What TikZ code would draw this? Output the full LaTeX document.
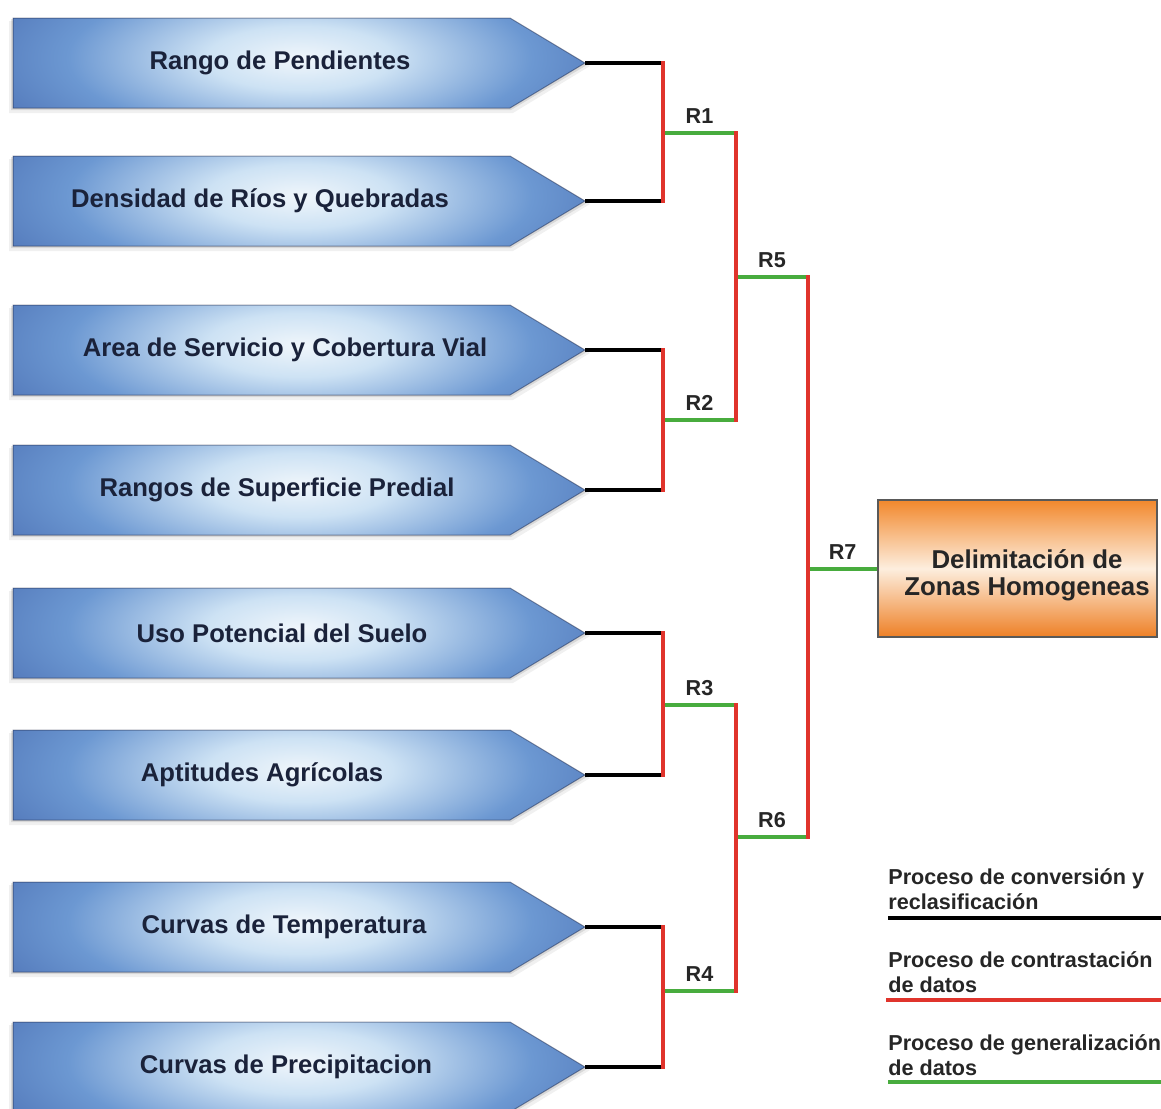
\documentclass[tikz,border=0pt]{standalone}
\usepackage{fontspec}
\setmainfont{Liberation Sans}
\definecolor{bxdark}{RGB}{46,64,128}
\definecolor{bxdeep}{RGB}{68,102,172}
\definecolor{bxmid}{RGB}{108,152,210}
\definecolor{bxpale}{RGB}{205,226,244}
\definecolor{bxlight}{RGB}{240,246,251}
\definecolor{bxtext}{RGB}{26,34,58}
\definecolor{lnred}{RGB}{224,52,44}
\definecolor{lngreen}{RGB}{72,172,62}
\definecolor{ortop}{RGB}{242,136,44}
\definecolor{orlight}{RGB}{253,238,222}
\definecolor{orbot}{RGB}{238,128,38}
\pgfdeclareradialshading{boxglow}{\pgfpoint{0bp}{0bp}}{color(0bp)=(bxlight); color(8bp)=(bxpale); color(20bp)=(bxmid); color(34bp)=(bxdeep); color(46bp)=(bxdark); color(75bp)=(bxdark)}
\tikzset{
  conv/.style={line width=0.08cm, black},
  contr/.style={line width=0.08cm, lnred, line cap=rect},
  gen/.style={line width=0.08cm, lngreen},
  boxtext/.style={font=\bfseries\fontsize{14.6}{17}\selectfont, text=bxtext},
  rlab/.style={above, inner sep=4pt, font=\bfseries\fontsize{12.3}{14}\selectfont, text=black!85},
  legtext/.style={anchor=south west, inner sep=0pt, align=left, font=\bfseries\fontsize{12.3}{14.2}\selectfont, text=black!85},
  resbox/.style={draw=black!65, line width=0.03cm, minimum width=5.58cm, minimum height=2.74cm,
    top color=ortop, bottom color=orbot, middle color=orlight},
  restext/.style={align=center, font=\bfseries\fontsize{14.7}{15.6}\selectfont, text=black!85}
}
\begin{document}
\begin{tikzpicture}[x=0.02cm,y=-0.02cm]
\useasboundingbox (0,0) rectangle (1161,1109);
% input layers
\foreach \i/\yc/\tx/\txt in {1/63/280/Rango de Pendientes, 2/201/260/Densidad de Ríos y Quebradas,
    3/350/285/Area de Servicio y Cobertura Vial, 4/490/277/Rangos de Superficie Predial,
    5/633/282/Uso Potencial del Suelo, 6/775/262/Aptitudes Agrícolas,
    7/927/284/Curvas de Temperatura, 8/1067/286/Curvas de Precipitacion}{
  \begin{scope}[shift={(0,\yc)}]
    \fill[black,opacity=0.06] (9,-42) -- (513,-42) -- (590,3) -- (513,50) -- (9,50) -- cycle;
    \fill[black,opacity=0.10] (11,-44) -- (511,-44) -- (587,2) -- (511,47) -- (11,47) -- cycle;
    \begin{scope}
      \clip (13,-45) -- (510,-45) -- (585,0) -- (510,45) -- (13,45) -- cycle;
      \shade[shading=boxglow] (10,-105) rectangle (590,95);
    \end{scope}
    \draw[bxdark!50!black,opacity=0.45,line width=0.02cm] (13,-45) -- (510,-45) -- (585,0) -- (510,45) -- (13,45) -- cycle;
    \node[boxtext] (b\i) at (\tx,0) {\txt};
    \coordinate (t\i) at (585,0);
  \end{scope}
}
% result
\node[resbox] (res) at (1017.5,568.5) {};
\node[restext] (rest) at (1027,575) {Delimitación de\\Zonas Homogeneas};
% junctions
\coordinate (r1) at (663,133);
\coordinate (r2) at (663,420);
\coordinate (r3) at (663,705);
\coordinate (r4) at (663,991);
\coordinate (r5) at (736,277);
\coordinate (r6) at (736,837);
\coordinate (r7) at (808,569);
% conversion
\draw[conv] (t1) -- (t1 -| r1);
\draw[conv] (t2) -- (t2 -| r1);
\draw[conv] (t3) -- (t3 -| r2);
\draw[conv] (t4) -- (t4 -| r2);
\draw[conv] (t5) -- (t5 -| r3);
\draw[conv] (t6) -- (t6 -| r3);
\draw[conv] (t7) -- (t7 -| r4);
\draw[conv] (t8) -- (t8 -| r4);
% generalization
\draw[gen] (r1) -- node[rlab] {R1} (r1 -| r5);
\draw[gen] (r2) -- node[rlab] {R2} (r2 -| r5);
\draw[gen] (r3) -- node[rlab] {R3} (r3 -| r6);
\draw[gen] (r4) -- node[rlab] {R4} (r4 -| r6);
\draw[gen] (r5) -- node[rlab] {R5} (r5 -| r7);
\draw[gen] (r6) -- node[rlab] {R6} (r6 -| r7);
\draw[gen] (r7) -- node[rlab] {R7} (r7 -| res.west);
% contrast
\draw[contr] (t1 -| r1) -- (t2 -| r1);
\draw[contr] (t3 -| r2) -- (t4 -| r2);
\draw[contr] (t5 -| r3) -- (t6 -| r3);
\draw[contr] (t7 -| r4) -- (t8 -| r4);
\draw[contr] (r1 -| r5) -- (r2 -| r5);
\draw[contr] (r3 -| r6) -- (r4 -| r6);
\draw[contr] (r5 -| r7) -- (r6 -| r7);
% legend
\node[legtext] (lg1) at (888,910) {Proceso de conversión y\\reclasificación};
\draw[conv] (888,918) -- (1161,918);
\node[legtext] (lg2) at (888,993) {Proceso de contrastación\\de datos};
\draw[contr] (888,1000) -- (1161,1000);
\node[legtext] (lg3) at (888,1076) {Proceso de generalización\\de datos};
\draw[gen] (888,1082) -- (1161,1082);
\end{tikzpicture}
\end{document}
